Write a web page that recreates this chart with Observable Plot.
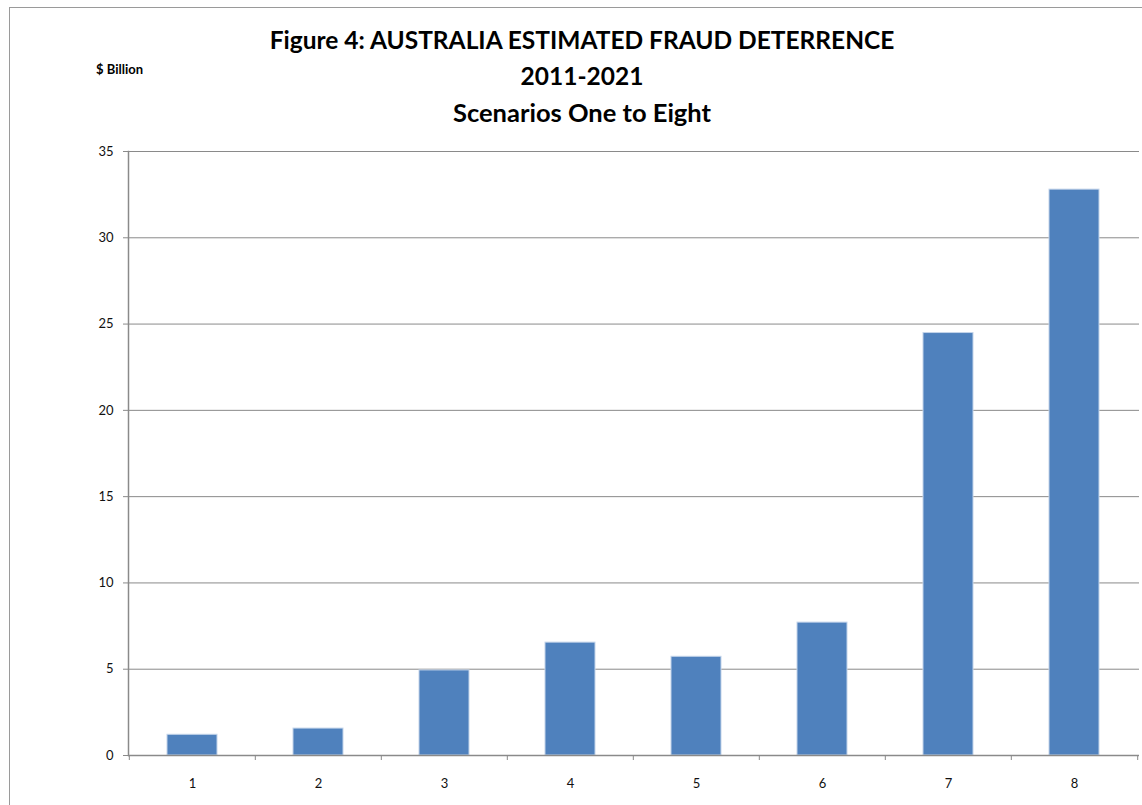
<!DOCTYPE html>
<html>
<head>
<meta charset="utf-8">
<script src="https://cdn.jsdelivr.net/npm/d3@7"></script>
<script src="https://cdn.jsdelivr.net/npm/@observablehq/plot@0.6"></script>
<style>
  html, body { margin: 0; padding: 0; background: #fff; }
  #wrap { position: relative; width: 1142px; height: 805px; overflow: hidden; font-family: Lato, "Open Sans", sans-serif; }
  #border { position: absolute; left: 9px; top: 7px; width: 1160px; height: 830px; border: 1px solid #9a9a9a; box-sizing: border-box; }
  .t { position: absolute; left: 0; width: 1164px; text-align: center; font-weight: bold; font-size: 24.5px; line-height: 24px; color: #000; white-space: nowrap; }
  #unit { position: absolute; left: 96px; top: 62px; font-weight: bold; font-size: 13px; line-height: 14px; color: #000; }
  #chart { position: absolute; left: 0; top: 0; }
</style>
</head>
<body>
<div id="wrap">
  <div id="border"></div>
  <div id="chart"></div>
  <div class="t" style="top:28px">Figure 4: AUSTRALIA ESTIMATED FRAUD DETERRENCE</div>
  <div class="t" style="top:64px">2011-2021</div>
  <div class="t" style="top:100px; font-size:25.5px">Scenarios One to Eight</div>
  <div id="unit">$ Billion</div>
</div>
<script>
const categories = ["1", "2", "3", "4", "5", "6", "7", "8"];
const values = [1.2, 1.56, 4.93, 6.54, 5.72, 7.70, 24.48, 32.79];
const yTicks = [0, 5, 10, 15, 20, 25, 30, 35];

const data = categories.map((c, i) => ({cat: c, value: values[i]}));

const W = 1142, H = 805, ML = 128, MR = 3, MT = 151, MB = 50;
const step = (W - ML - MR) / categories.length;
const grey = "#8a8a8a";

const chart = Plot.plot({
  width: W,
  height: H,
  marginLeft: ML,
  marginRight: MR,
  marginTop: MT,
  marginBottom: MB,
  style: {fontFamily: "Lato, 'Open Sans', sans-serif", fontSize: "13px", color: "#111", background: "transparent"},
  x: {domain: categories, paddingInner: 0.6, paddingOuter: 0.3, label: null},
  y: {domain: [0, 35], label: null},
  marks: [
    Plot.gridY(yTicks.slice(1), {stroke: grey, strokeOpacity: 1, strokeWidth: 1}),
    Plot.barY(data, {x: "cat", y: "value", fill: "#4F81BD", stroke: "#c3d4ea", strokeWidth: 1}),
    Plot.ruleY([0], {stroke: grey, strokeWidth: 1.5}),
    Plot.frame({anchor: "left", stroke: grey, strokeWidth: 1.5}),
    Plot.axisY({ticks: yTicks, tickSize: 5, tickPadding: 10, stroke: grey, label: null}),
    Plot.axisX({tickSize: 0, tickPadding: 23, label: null}),
    Plot.axisX({tickSize: 5, tickFormat: () => "", dx: -step / 2, stroke: grey, label: null}),
    Plot.axisX({ticks: [categories[categories.length - 1]], tickSize: 5, tickFormat: () => "", dx: step / 2, stroke: grey, label: null})
  ]
});
document.getElementById("chart").appendChild(chart);
</script>
</body>
</html>
